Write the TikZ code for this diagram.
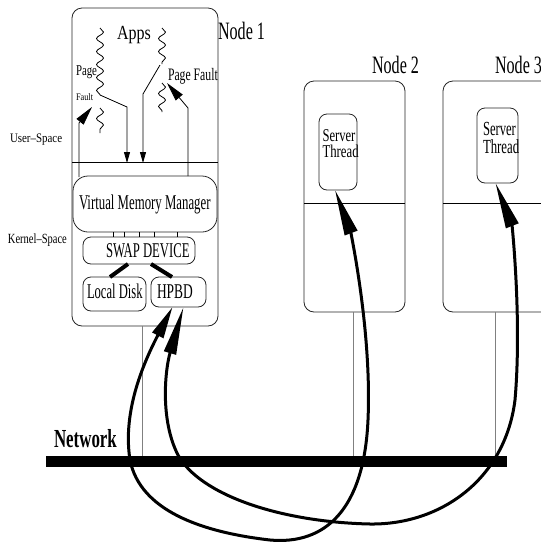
\documentclass[tikz,border=0pt]{standalone}
\usepackage{fontspec}
\usepackage{graphicx}
\setmainfont{Liberation Serif}
\usetikzlibrary{arrows.meta,decorations.pathmorphing}
\newcommand{\sxt}[3]{\fontsize{#1}{#1}\selectfont\scalebox{#2}[1]{#3}}
\begin{document}
\begin{tikzpicture}[x=1pt,y=-1pt,
  rbox/.style={draw=black!85, line width=0.8pt, inner sep=0pt, outer sep=0pt},
  lbl/.style={inner sep=0pt, outer sep=0pt, anchor=base west},
  two/.style={inner sep=0pt, outer sep=0pt, anchor=north west, align=left},
  wire/.style={draw=black!50, line width=0.8pt},
  thinl/.style={draw=black, line width=0.8pt},
  thread/.style={decorate, decoration={snake, segment length=13pt, amplitude=3.5pt}, line width=0.8pt},
  big/.style={line width=3pt},
  smallhead/.style={-{Triangle[length=11pt,width=6pt]}},
  uphead/.style={-{Triangle[length=19pt,width=9pt]}}
]
\useasboundingbox (0,0) rectangle (541,542);
\clip (0,0) rectangle (541,542);

% network bar
\node[fill=black, minimum width=461pt, minimum height=11pt, inner sep=0pt, outer sep=0pt] (net) at (276.5,461.5) {};
\node[lbl] (netlbl) at (54,447) {\bfseries\sxt{26}{0.65}{Network}};

% node boxes
\node[rbox, minimum width=146pt, minimum height=318pt, rounded corners=10pt] (node1) at (145,167) {};
\node[rbox, minimum width=101pt, minimum height=231pt, rounded corners=10pt] (node2) at (354.5,196.5) {};
\node[rbox, minimum width=117pt, minimum height=231pt, rounded corners=10pt] (node3) at (501.5,196.5) {};

% wires to network
\draw[wire] ([xshift=-3pt]node1.south) -- ([xshift=-3pt]node1.south |- net.north);
\draw[wire] ([xshift=-1.5pt]node2.south) -- ([xshift=-1.5pt]node2.south |- net.north);
\draw[wire] ([xshift=-6.5pt]node3.south) -- ([xshift=-6.5pt]node3.south |- net.north);

% user/kernel boundaries
\draw[thinl] (72,162) -- (218,162);
\draw[thinl] (304,203) -- (405,203);
\draw[thinl] (443,203) -- (541,203);

% node labels
\node[lbl] (apps) at (117,39) {\sxt{20}{0.8}{Apps}};
\node[lbl] (n1lbl) at (218,39) {\sxt{25}{0.645}{Node 1}};
\node[lbl] (n2lbl) at (372,73) {\sxt{25}{0.645}{Node 2}};
\node[lbl] (n3lbl) at (495,73) {\sxt{25}{0.645}{Node 3}};
\node[lbl] (ulbl) at (10,142) {\sxt{13}{0.84}{User--Space}};
\node[lbl] (klbl) at (8,243) {\sxt{14}{0.75}{Kernel--Space}};

% kernel boxes
\node[rbox, minimum width=144pt, minimum height=56pt, rounded corners=15pt] (vmm) at (145,204) {};
\node[lbl] (vmmt) at (79,209) {\sxt{21}{0.61}{Virtual Memory Manager}};
\node[rbox, minimum width=112pt, minimum height=27pt, rounded corners=8pt] (swap) at (139,250.5) {};
\node[lbl] (swapt) at (106,257) {\sxt{21}{0.605}{SWAP DEVICE}};
\node[rbox, minimum width=63pt, minimum height=34pt, rounded corners=8pt] (local) at (114.5,294) {};
\node[lbl] (localt) at (87,298) {\sxt{21}{0.6}{Local Disk}};
\node[rbox, minimum width=55pt, minimum height=30pt, rounded corners=8pt] (hpbd) at (178.5,292) {};
\node[lbl] (hpbdt) at (157,298) {\sxt{21}{0.64}{HPBD}};

\foreach \tx in {113,124,139,154,177} \draw[thinl] (\tx,232) -- (\tx,237);
\draw[line width=4pt] ([xshift=-11pt]swap.south) -- ([xshift=-4.5pt]local.north);
\draw[line width=4pt] ([xshift=12pt]swap.south) -- ([xshift=-6.5pt]hpbd.north);

% server threads
\node[rbox, minimum width=38pt, minimum height=76pt, rounded corners=8pt] (st2) at (338,152) {};
\node[two, font=\fontsize{18}{16.5}\selectfont] (st2t) at (322.5,129.5)
  {\scalebox{0.70}[1]{Server}\\\scalebox{0.71}[1]{Thread}};
\node[rbox, minimum width=41pt, minimum height=75pt, rounded corners=8pt] (st3) at (497.5,145.5) {};
\node[two, font=\fontsize{20}{18}\selectfont] (st3t) at (483,122.5)
  {\scalebox{0.63}[1]{Server}\\\scalebox{0.64}[1]{Thread}};

% application threads and page faults
\node[lbl] (pg1) at (76,75) {\sxt{15}{0.72}{Page}};
\node[lbl] (pf1) at (76,100) {\sxt{10}{0.83}{Fault}};
\node[lbl] (pf2) at (168,80) {\sxt{17.5}{0.67}{Page Fault}};
\draw[thread] (100,28) -- (100,95);
\draw[thinl, smallhead] (100,95) -- (127,107) -- (127,163);
\draw[thread] (100,108) -- (100,133);
\draw[thread] (162,28) -- (162,64);
\draw[thinl, smallhead] (160,65) -- (143,94) -- (143,163);
\draw[thread] (162,83) -- (162,112);
\draw[thinl, uphead] (79,177) -- (79,123) -- (92,107);
\draw[thinl, uphead] (188,176) -- (188,108) -- (167,83);

% remote paging connectors
\draw[big, {Triangle[length=46pt,width=13pt]}-{Triangle[length=32pt,width=12pt]}]
  ([xshift=-3pt]st2.south) .. controls (350,230) and (372,330) .. (368,420)
  .. controls (364,510) and (325,545) .. (270,540)
  .. controls (200,532) and (140,510) .. (130,460)
  .. controls (122,410) and (145,360) .. ([xshift=-6pt]hpbd.south);
\draw[big, {Triangle[length=46pt,width=13pt]}-{Triangle[length=48pt,width=12pt]}]
  ([xshift=-2pt]st3.south) .. controls (512,225) and (522,320) .. (515,400)
  .. controls (505,480) and (440,525) .. (370,524)
  .. controls (280,522) and (200,495) .. (178,455)
  .. controls (160,420) and (165,370) .. ([xshift=5pt]hpbd.south);
\end{tikzpicture}
\end{document}
